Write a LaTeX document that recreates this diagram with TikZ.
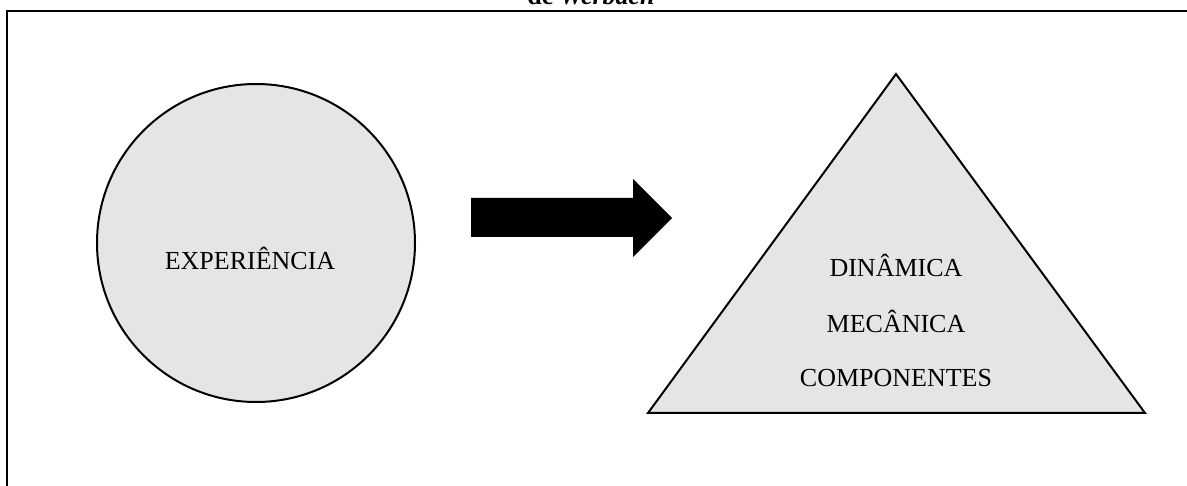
\documentclass[tikz,border=0pt]{standalone}
\usepackage{fontspec}
\setmainfont{Liberation Serif}
\definecolor{cinza}{HTML}{E5E5E5}

\begin{document}
\begin{tikzpicture}[x=1pt, y=-1pt,
    rotulo/.style={font=\fontsize{26}{30}\selectfont, anchor=base}]
  \useasboundingbox (0,0) rectangle (1187,486);
  % moldura e titulo cortado
  \draw[line width=2.5pt] (7,486) -- (7,11) -- (1187,11);
  \node[rotulo, font=\fontsize{26}{30}\selectfont\bfseries] (titulo) at (591,5) {de \textit{Werbach}};
  % experiencia
  \node[circle, draw, line width=2pt, fill=cinza, minimum size=318pt, inner sep=0pt] (circulo) at (256,243) {};
  \node[rotulo] (experiencia) at (250,270) {EXPERIÊNCIA};
  % seta
  \fill (471,198) -- (633,198) -- (633,179) -- (672,218) -- (633,257) -- (633,237) -- (471,237) -- cycle;
  % piramide
  \draw[line width=2pt, fill=cinza] (648,413) -- (896,74) -- (1145,413) -- cycle;
  \node[rotulo] (dinamica) at (896,277) {DINÂMICA};
  \node[rotulo] (mecanica) at (896,333) {MECÂNICA};
  \node[rotulo] (componentes) at (896,387) {COMPONENTES};
\end{tikzpicture}
\end{document}
